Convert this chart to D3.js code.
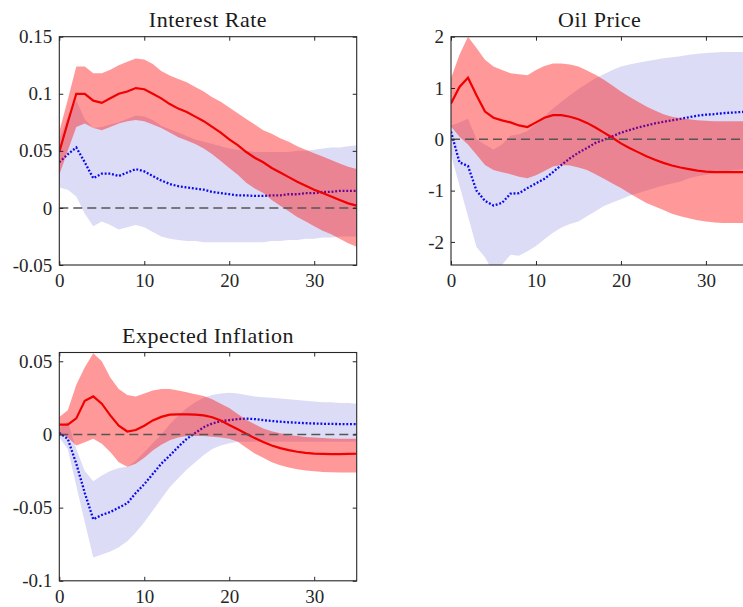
<!DOCTYPE html>
<html>
<head>
<meta charset="utf-8">
<script src="https://cdn.jsdelivr.net/npm/d3@7"></script>
<style>
  body { margin: 0; background: #fff; }
  svg { display: block; }
</style>
</head>
<body>
<div id="chart"></div>
<script>
// horizon (periods) and tick labels
const horizon = d3.range(0, 36);
const xTicks = [0, 10, 20, 30];

// Interest Rate
const rateRed = [0.049,0.075,0.100,0.100,0.094,0.092,0.096,0.100,0.102,0.105,0.104,0.100,0.096,0.091,0.087,0.084,0.080,0.076,0.071,0.066,0.060,0.055,0.049,0.044,0.040,0.035,0.031,0.027,0.023,0.0195,0.016,0.013,0.010,0.007,0.004,0.002];
const rateRedHi = [0.067,0.095,0.124,0.124,0.118,0.118,0.121,0.125,0.128,0.131,0.130,0.126,0.120,0.116,0.113,0.110,0.106,0.102,0.097,0.093,0.088,0.083,0.078,0.073,0.068,0.065,0.061,0.058,0.054,0.051,0.048,0.045,0.042,0.039,0.036,0.034];
const rateRedLo = [0.029,0.050,0.071,0.074,0.070,0.068,0.071,0.074,0.076,0.077,0.076,0.073,0.070,0.066,0.062,0.059,0.056,0.052,0.047,0.041,0.035,0.029,0.022,0.017,0.013,0.007,0.002,-0.003,-0.008,-0.012,-0.016,-0.020,-0.023,-0.027,-0.031,-0.034];
const rateBlue = [0.040,0.047,0.053,0.040,0.026,0.030,0.030,0.028,0.031,0.034,0.032,0.028,0.024,0.021,0.019,0.018,0.017,0.016,0.014,0.013,0.012,0.011,0.011,0.0105,0.0105,0.011,0.011,0.012,0.012,0.013,0.013,0.014,0.014,0.015,0.015,0.015];
const rateBlueHi = [0.060,0.080,0.094,0.078,0.070,0.071,0.073,0.075,0.078,0.081,0.080,0.077,0.072,0.069,0.066,0.063,0.060,0.058,0.056,0.054,0.052,0.051,0.050,0.049,0.049,0.049,0.049,0.049,0.050,0.050,0.051,0.052,0.053,0.053,0.054,0.055];
const rateBlueLo = [0.018,0.016,0.010,-0.005,-0.016,-0.012,-0.015,-0.019,-0.017,-0.015,-0.017,-0.021,-0.025,-0.027,-0.028,-0.029,-0.029,-0.030,-0.030,-0.030,-0.030,-0.030,-0.030,-0.030,-0.030,-0.029,-0.029,-0.028,-0.028,-0.027,-0.027,-0.026,-0.026,-0.025,-0.025,-0.025];
const rateYTicks = [-0.05, 0, 0.05, 0.1, 0.15];

// Oil Price
const oilRed = [0.70,1.02,1.20,0.86,0.54,0.42,0.37,0.33,0.27,0.24,0.33,0.42,0.47,0.47,0.44,0.39,0.32,0.23,0.13,0.03,-0.08,-0.17,-0.25,-0.33,-0.40,-0.46,-0.51,-0.55,-0.58,-0.61,-0.63,-0.64,-0.64,-0.64,-0.64,-0.64];
const oilRedHi = [1.19,1.65,2.00,1.78,1.55,1.42,1.35,1.29,1.27,1.25,1.35,1.43,1.48,1.48,1.46,1.42,1.34,1.26,1.16,1.05,0.93,0.83,0.73,0.64,0.56,0.49,0.44,0.41,0.39,0.37,0.36,0.35,0.35,0.35,0.35,0.35];
const oilRedLo = [0.25,0.05,-0.10,-0.30,-0.50,-0.60,-0.64,-0.68,-0.73,-0.76,-0.70,-0.62,-0.53,-0.50,-0.51,-0.55,-0.60,-0.68,-0.77,-0.86,-0.95,-1.05,-1.15,-1.24,-1.31,-1.38,-1.45,-1.50,-1.54,-1.58,-1.60,-1.62,-1.63,-1.63,-1.63,-1.63];
const oilBlue = [0.15,-0.45,-0.52,-1.00,-1.20,-1.29,-1.24,-1.06,-1.05,-0.95,-0.86,-0.77,-0.64,-0.50,-0.37,-0.26,-0.17,-0.07,-0.01,0.06,0.13,0.18,0.23,0.27,0.31,0.34,0.37,0.40,0.43,0.46,0.48,0.49,0.51,0.52,0.53,0.54];
const oilBlueHi = [0.27,0.33,0.40,0.00,-0.10,-0.20,-0.10,0.07,0.10,0.16,0.30,0.45,0.60,0.73,0.86,0.98,1.09,1.19,1.27,1.35,1.42,1.46,1.49,1.52,1.55,1.58,1.60,1.62,1.65,1.67,1.68,1.69,1.70,1.70,1.70,1.70];
const oilBlueLo = [-0.30,-0.90,-1.50,-2.10,-2.30,-2.60,-2.45,-2.25,-2.27,-2.18,-2.08,-1.95,-1.82,-1.72,-1.65,-1.60,-1.50,-1.40,-1.30,-1.23,-1.17,-1.10,-1.05,-1.00,-0.95,-0.90,-0.86,-0.82,-0.76,-0.72,-0.69,-0.66,-0.63,-0.61,-0.59,-0.57];
const oilYTicks = [-2, -1, 0, 1, 2];

// Expected Inflation
const inflRed = [0.0067,0.0067,0.011,0.023,0.026,0.021,0.013,0.006,0.002,0.003,0.006,0.0096,0.012,0.0135,0.0137,0.0137,0.0135,0.013,0.0118,0.0095,0.0065,0.0035,0.0005,-0.0025,-0.0052,-0.0075,-0.0093,-0.0107,-0.0118,-0.0126,-0.0131,-0.0133,-0.0134,-0.0134,-0.0133,-0.0132];
const inflRedHi = [0.012,0.0165,0.034,0.046,0.0555,0.050,0.039,0.031,0.027,0.026,0.028,0.030,0.031,0.031,0.030,0.0288,0.0275,0.0262,0.024,0.021,0.018,0.014,0.010,0.007,0.004,0.0022,0.0008,-0.0003,-0.0011,-0.0017,-0.0021,-0.0025,-0.0027,-0.0029,-0.003,-0.003];
const inflRedLo = [0.001,-0.002,-0.0076,-0.0053,-0.003,-0.0064,-0.012,-0.019,-0.022,-0.020,-0.016,-0.011,-0.007,-0.004,-0.002,-0.001,-0.001,-0.001,-0.0015,-0.002,-0.003,-0.005,-0.009,-0.013,-0.016,-0.019,-0.021,-0.0225,-0.0238,-0.0246,-0.0252,-0.0256,-0.0259,-0.026,-0.026,-0.026];
const inflBlue = [0.001,-0.003,-0.020,-0.040,-0.058,-0.055,-0.053,-0.050,-0.047,-0.040,-0.034,-0.027,-0.020,-0.0144,-0.0085,-0.003,0.001,0.005,0.0075,0.009,0.0098,0.0105,0.0108,0.0105,0.0098,0.0092,0.0087,0.0083,0.008,0.0077,0.0075,0.0073,0.0072,0.0071,0.007,0.007];
const inflBlueHi = [0.004,0.009,-0.010,-0.025,-0.032,-0.028,-0.025,-0.023,-0.022,-0.018,-0.012,-0.006,0.000,0.007,0.013,0.018,0.022,0.025,0.027,0.028,0.0285,0.028,0.027,0.026,0.0255,0.025,0.0245,0.024,0.0235,0.023,0.0225,0.022,0.022,0.0215,0.0215,0.021];
const inflBlueLo = [-0.002,-0.010,-0.035,-0.060,-0.084,-0.082,-0.080,-0.077,-0.073,-0.067,-0.060,-0.052,-0.044,-0.036,-0.030,-0.024,-0.019,-0.014,-0.010,-0.0075,-0.006,-0.005,-0.005,-0.005,-0.005,-0.005,-0.005,-0.005,-0.005,-0.005,-0.005,-0.005,-0.005,-0.005,-0.005,-0.005];
const inflYTicks = [-0.1, -0.05, 0, 0.05];

const W = 743, H = 607;
const plotW = 297.4, plotH = 228.3;

const panels = [
  { title: "Interest Rate", left: 59.3, top: 36.7, yDomain: [-0.05, 0.15], yTicks: rateYTicks,
    red: rateRed, redLo: rateRedLo, redHi: rateRedHi, blue: rateBlue, blueLo: rateBlueLo, blueHi: rateBlueHi },
  { title: "Oil Price", left: 451, top: 36.7, yDomain: [-2.45, 2], yTicks: oilYTicks,
    red: oilRed, redLo: oilRedLo, redHi: oilRedHi, blue: oilBlue, blueLo: oilBlueLo, blueHi: oilBlueHi },
  { title: "Expected Inflation", left: 59.3, top: 352.5, yDomain: [-0.1, 0.056], yTicks: inflYTicks,
    red: inflRed, redLo: inflRedLo, redHi: inflRedHi, blue: inflBlue, blueLo: inflBlueLo, blueHi: inflBlueHi },
];

const font = "'Liberation Serif', 'Times New Roman', serif";
const ink = "#262626";

const svg = d3.select("#chart").append("svg")
  .attr("width", W)
  .attr("height", H)
  .attr("viewBox", `0 0 ${W} ${H}`);

svg.append("rect").attr("width", W).attr("height", H).attr("fill", "#fff");

panels.forEach((p, k) => drawPanel(p, k));

function drawPanel(p, k) {
  const x = d3.scaleLinear().domain([0, 35]).range([p.left, p.left + plotW]);
  const y = d3.scaleLinear().domain(p.yDomain).range([p.top + plotH, p.top]);

  const g = svg.append("g");

  // clip bands to the plot box
  g.append("clipPath").attr("id", "clip" + k)
    .append("rect")
    .attr("x", p.left).attr("y", p.top)
    .attr("width", plotW).attr("height", plotH);

  const plot = g.append("g").attr("clip-path", `url(#clip${k})`);

  const band = (lo, hi) => d3.area()
    .x((d) => x(d))
    .y0((d) => y(lo[d]))
    .y1((d) => y(hi[d]))(horizon);

  const line = (vals) => d3.line()
    .x((d) => x(d))
    .y((d) => y(vals[d]))(horizon);

  // blue (lavender) band and dotted line sit underneath the red band
  plot.append("path")
    .attr("d", band(p.blueLo, p.blueHi))
    .attr("fill", "#dcdcf6");

  plot.append("path")
    .attr("d", line(p.blue))
    .attr("fill", "none")
    .attr("stroke", "#0a0aee")
    .attr("stroke-width", 2.3)
    .attr("stroke-dasharray", "1.9,1.8");

  plot.append("path")
    .attr("d", band(p.redLo, p.redHi))
    .attr("fill", "#ff0000")
    .attr("fill-opacity", 0.4);

  plot.append("path")
    .attr("d", line(p.red))
    .attr("fill", "none")
    .attr("stroke", "#f00000")
    .attr("stroke-width", 2.2);

  // zero line
  plot.append("line")
    .attr("x1", x(0)).attr("x2", x(35))
    .attr("y1", y(0)).attr("y2", y(0))
    .attr("stroke", "#555")
    .attr("stroke-width", 1.4)
    .attr("stroke-dasharray", "9,5");

  // axes: ticks inward on all four sides
  const styleAxis = (sel) => {
    sel.select(".domain").remove();
    sel.attr("font-size", null).attr("font-family", null).attr("color", ink);
    sel.selectAll("line").attr("stroke-width", 1);
    sel.selectAll("text")
      .style("font-family", font)
      .style("font-size", "19px")
      .attr("fill", ink);
  };

  g.append("g")
    .attr("transform", `translate(0,${p.top + plotH})`)
    .call(d3.axisBottom(x).tickValues(xTicks).tickSize(-4).tickPadding(9).tickFormat(d3.format("d")))
    .call(styleAxis);

  g.append("g")
    .attr("transform", `translate(0,${p.top})`)
    .call(d3.axisTop(x).tickValues(xTicks).tickSize(-4).tickFormat(""))
    .call(styleAxis);

  g.append("g")
    .attr("transform", `translate(${p.left},0)`)
    .call(d3.axisLeft(y).tickValues(p.yTicks).tickSize(-4).tickPadding(7).tickFormat((d) => String(d)))
    .call(styleAxis);

  g.append("g")
    .attr("transform", `translate(${p.left + plotW},0)`)
    .call(d3.axisRight(y).tickValues(p.yTicks).tickSize(-4).tickFormat(""))
    .call(styleAxis);

  // box
  g.append("rect")
    .attr("x", p.left).attr("y", p.top)
    .attr("width", plotW).attr("height", plotH)
    .attr("fill", "none")
    .attr("stroke", ink)
    .attr("stroke-width", 1.1);

  // title
  g.append("text")
    .attr("x", p.left + plotW / 2)
    .attr("y", p.top - 10)
    .attr("text-anchor", "middle")
    .style("font-family", font)
    .style("font-size", "22px")
    .style("letter-spacing", "0.5px")
    .attr("fill", "#1a1a1a")
    .text(p.title);
}
</script>
</body>
</html>
